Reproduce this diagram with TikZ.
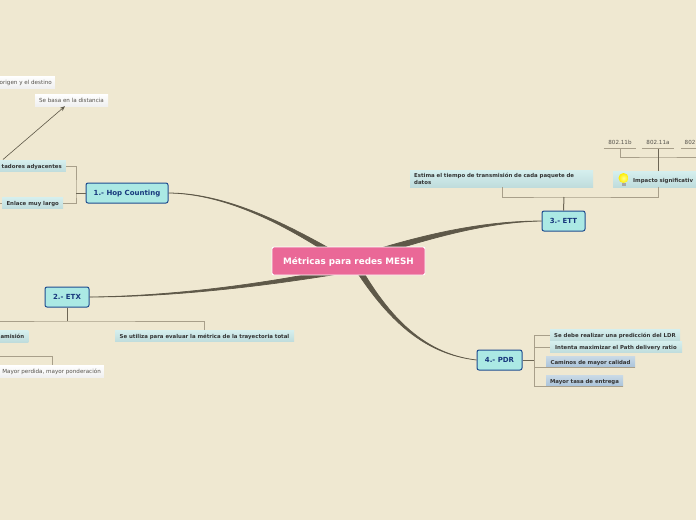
\documentclass[tikz,border=0pt]{standalone}
\usepackage{fontspec}
\setmainfont{DejaVu Sans}
\usepackage{tikz}
\usetikzlibrary{positioning,calc,arrows.meta,shapes.geometric}
\usepackage{xcolor}
\definecolor{paper}{HTML}{EFE8D1}
\definecolor{rootpink}{HTML}{EA6897}
\definecolor{branchfill}{HTML}{ABE9E4}
\definecolor{branchline}{HTML}{1E4C8F}
\definecolor{branchtext}{HTML}{17377C}
\definecolor{linkdark}{HTML}{5E5848}
\definecolor{stem}{HTML}{A89F8A}
\definecolor{tealtop}{HTML}{D5EFEE}
\definecolor{tealbot}{HTML}{BFDCDC}
\definecolor{bluetop}{HTML}{C9D9E6}
\definecolor{bluebot}{HTML}{A9C2DA}
\definecolor{notetext}{HTML}{55524C}
\tikzset{
  rootbox/.style={rectangle,rounded corners=2pt,draw=white,line width=0.9pt,fill=rootpink,text=white,font=\fontsize{8.8}{10}\selectfont\bfseries,minimum width=153pt,minimum height=28pt,inner sep=0pt,text depth=0pt},
  branchbox/.style={rectangle,rounded corners=2pt,draw=branchline,line width=1pt,fill=branchfill,text=branchtext,font=\fontsize{7}{8}\selectfont\bfseries,minimum height=20pt,inner sep=0pt,text depth=0pt},
  tealbox/.style={rectangle,top color=tealtop,bottom color=tealbot,text=black!80,font=\fontsize{5.4}{6.2}\selectfont\bfseries,inner sep=0pt,minimum height=11.5pt,text depth=0pt},
  bluebox/.style={tealbox,top color=bluetop,bottom color=bluebot},
  notebox/.style={rectangle,top color=white,bottom color=black!6,text=notetext,font=\fontsize{5.6}{6.4}\selectfont,inner sep=0pt,minimum height=12pt,text depth=0pt},
  plainlabel/.style={text=notetext,font=\fontsize{5.6}{6.4}\selectfont,inner sep=0pt,minimum height=11pt},
  stemline/.style={draw=stem,line width=1pt},
  hubline/.style={draw=linkdark!80!stem,line width=1pt},
  link/.style={fill=linkdark,draw=linkdark,line width=0.7pt},
}
\begin{document}
\begin{tikzpicture}[x=1pt,y=-1pt]
\useasboundingbox (0,0) rectangle (696,520);
\clip (0,0) rectangle (696,520);
\fill[paper] (0,0) rectangle (696,520);
\coordinate (hub) at (348.5,261);
% branches
\node[branchbox,minimum width=82pt] (hop) at (127,193) {1.- Hop Counting};
\node[branchbox,minimum width=44pt] (etx) at (67,297) {2.- ETX};
\node[branchbox,minimum width=43pt] (ett) at (563.5,221) {3.- ETT};
\node[branchbox,minimum width=45pt] (pdr) at (499.5,360) {4.- PDR};
% tapered links
\path[link] ($(hub)+(-3.5,-4)$) .. controls (305,235) and (235,193) .. (hop.east) .. controls (235,194) and (300,235) .. ($(hub)+(-8.5,0)$) -- cycle;
\path[link] ($(hub)+(1.5,5)$) .. controls (260,285) and (170,296) .. (etx.east) .. controls (170,297) and (262,287) .. ($(hub)+(1.5,11)$) -- cycle;
\path[link] ($(hub)+(3.5,-4)$) .. controls (420,235) and (480,221) .. (ett.west) .. controls (480,222.5) and (425,240) .. ($(hub)+(3.5,2)$) -- cycle;
\path[link] ($(hub)+(2,1)$) .. controls (388,322) and (425,354) .. (pdr.west) .. controls (426,354) and (390,320) .. ($(hub)+(9,1)$) -- cycle;
% 1.- hop counting
\node[tealbox,anchor=east,inner xsep=4pt] (adj) at (66,166) {tadores adyacentes};
\node[tealbox,anchor=west,minimum width=61pt] (largo) at (2,203) {Enlace muy largo};
\node[notebox,minimum width=73pt] (basa) at (71.5,100) {Se basa en la distancia};
\node[notebox,anchor=east,inner xsep=3pt] (origen) at (55,82) {origen y el destino};
\coordinate (hopjoin) at (76,193);
\coordinate (largofree) at (0,203);
\coordinate (adjtail) at (3,159.5);
\draw[stemline] (adj.east) -| (hopjoin) |- (largo.east);
\draw[hubline] (hop.west) -- (hopjoin);
\draw[stemline] (largofree) -- (largo.west);
\draw[-{Stealth[length=5pt,width=4pt]},draw=linkdark,line width=0.6pt] (adjtail) -- ([xshift=-6.5pt]basa.south);
% 2.- etx
\node[tealbox,minimum width=179pt] (evalua) at (204.5,336) {Se utiliza para evaluar la métrica de la trayectoria total};
\node[tealbox,anchor=east,inner xsep=4pt] (mision) at (28.5,336.5) {amisión};
\node[notebox,anchor=east,inner xsep=3pt] (perdida) at (104,371) {Mayor perdida, mayor ponderación};
\coordinate (etxjoin) at (67.5,321);
\coordinate (etxfree) at (0,321);
\coordinate (perdfree) at (0,356);
\draw[stemline] (etxfree) -- (etxjoin) -| (evalua.north);
\draw[hubline] (etx.south -| etxjoin) -- (etxjoin);
\draw[stemline] (perdfree) -| (perdida.north -| 52.5,0);
% 3.- ett
\node[tealbox,anchor=west,minimum width=183pt,minimum height=17pt,text width=175pt,align=left,text depth=,font=\fontsize{5.4}{6.4}\selectfont\bfseries] (estima) at (410,178.7) {Estima el tiempo de transmisión de cada paquete de\\datos};
\node[tealbox,anchor=west,minimum width=90pt,minimum height=16pt,text width=86pt,align=left] (impacto) at (613,179.2) {\hspace*{18pt}\raisebox{-1.6pt}{\mbox{Impacto significativ}}};
\shade[inner color=yellow!45,outer color=yellow!85!orange] (623.5,178) circle (5pt);
\fill[black!35] (621.5,182.5) rectangle (625.5,186);
\coordinate (ettjoin) at (564,197);
\coordinate (busjoin) at (658,157);
\coordinate (busfree) at (696,157);
\node[plainlabel,minimum width=32pt] (b) at (620,142.5) {802.11b};
\node[plainlabel,minimum width=32pt] (a) at (658,142.5) {802.11a};
\node[plainlabel,anchor=west,inner xsep=3.5pt] (g) at (681,142.5) {802};
\draw[stemline] (estima.south -| 502,0) |- (ettjoin) -| (impacto.south -| 658.5,0);
\draw[hubline] (ett.north) -- (ettjoin);
\draw[stemline] (b.south) |- (busjoin) -- (busfree);
\draw[hubline] (impacto.north -| a.south) -- (a.south);
\draw[stemline] (b.south west) -- (b.south east);
\draw[stemline] (a.south west) -- (a.south east);
\draw[stemline] (g.south west) -- (g.south east);
% 4.- pdr
\node[tealbox,minimum width=130pt] (ldr) at (615,335) {Se debe realizar una predicción del LDR};
\node[tealbox,minimum width=132pt] (path) at (616,347) {Intenta maximizar el Path delivery ratio};
\node[bluebox,minimum width=89pt] (caminos) at (590.5,362) {Caminos de mayor calidad};
\node[bluebox,minimum width=77pt] (tasa) at (584.5,381) {Mayor tasa de entrega};
\coordinate (pdrjoin) at (534,360);
\draw[stemline] (ldr.west) -| (pdrjoin);
\draw[stemline] (path.west) -| (pdrjoin);
\draw[stemline] (caminos.south east) -| (pdrjoin);
\draw[stemline] (tasa.south east) -| (pdrjoin);
\draw[hubline] (pdr.east) -- (pdrjoin);
% root
\node[rootbox] (root) at (hub) {Métricas para redes MESH};
\end{tikzpicture}
\end{document}
